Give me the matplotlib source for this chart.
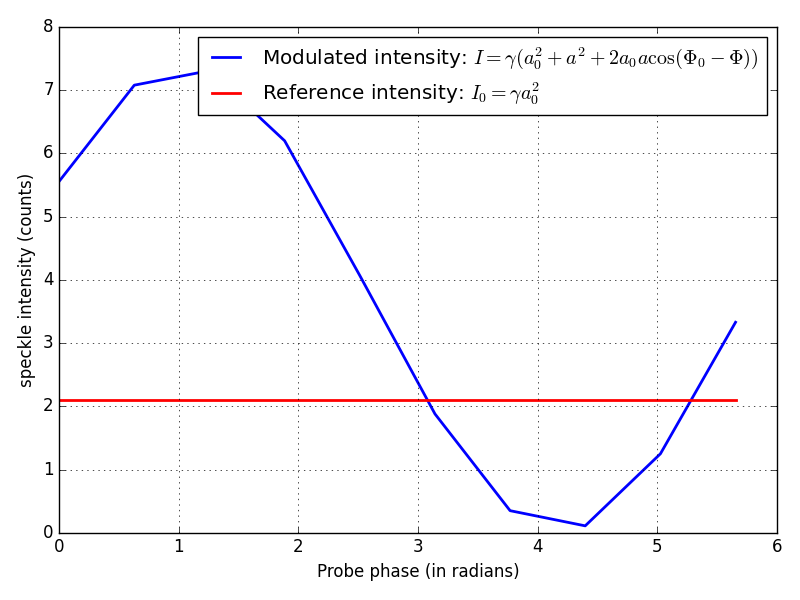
import numpy as np
import matplotlib
matplotlib.use("Agg")
import matplotlib.pyplot as plt

plt.style.use('classic')

phase = [0.0, 0.628, 1.257, 1.885, 2.513, 3.142, 3.770, 4.398, 5.027, 5.655]
intensity = [5.56, 7.08, 7.31, 6.20, 4.07, 1.88, 0.35, 0.11, 1.25, 3.33]
ref_level = 2.10

fig, ax = plt.subplots(figsize=(8, 6), dpi=100)
fig.subplots_adjust(left=0.074, right=0.971, top=0.955, bottom=0.112)
ax.plot(phase, intensity, color='blue', linewidth=2,
        label=r'Modulated intensity: $I = \gamma(a_0^2 + a^2 + 2a_0 a\cos(\Phi_0 - \Phi))$')
ax.plot([phase[0], phase[-1]], [ref_level, ref_level], color='red', linewidth=2,
        label=r'Reference intensity: $I_0 = \gamma a_0^2$')
ax.set_xlim(0, 6)
ax.set_ylim(0, 8)
ax.grid(True)
ax.set_xlabel('Probe phase (in radians)')
ax.set_ylabel('speckle intensity (counts)')
ax.legend(loc='upper right')
fig.savefig('out.png', dpi=100)
